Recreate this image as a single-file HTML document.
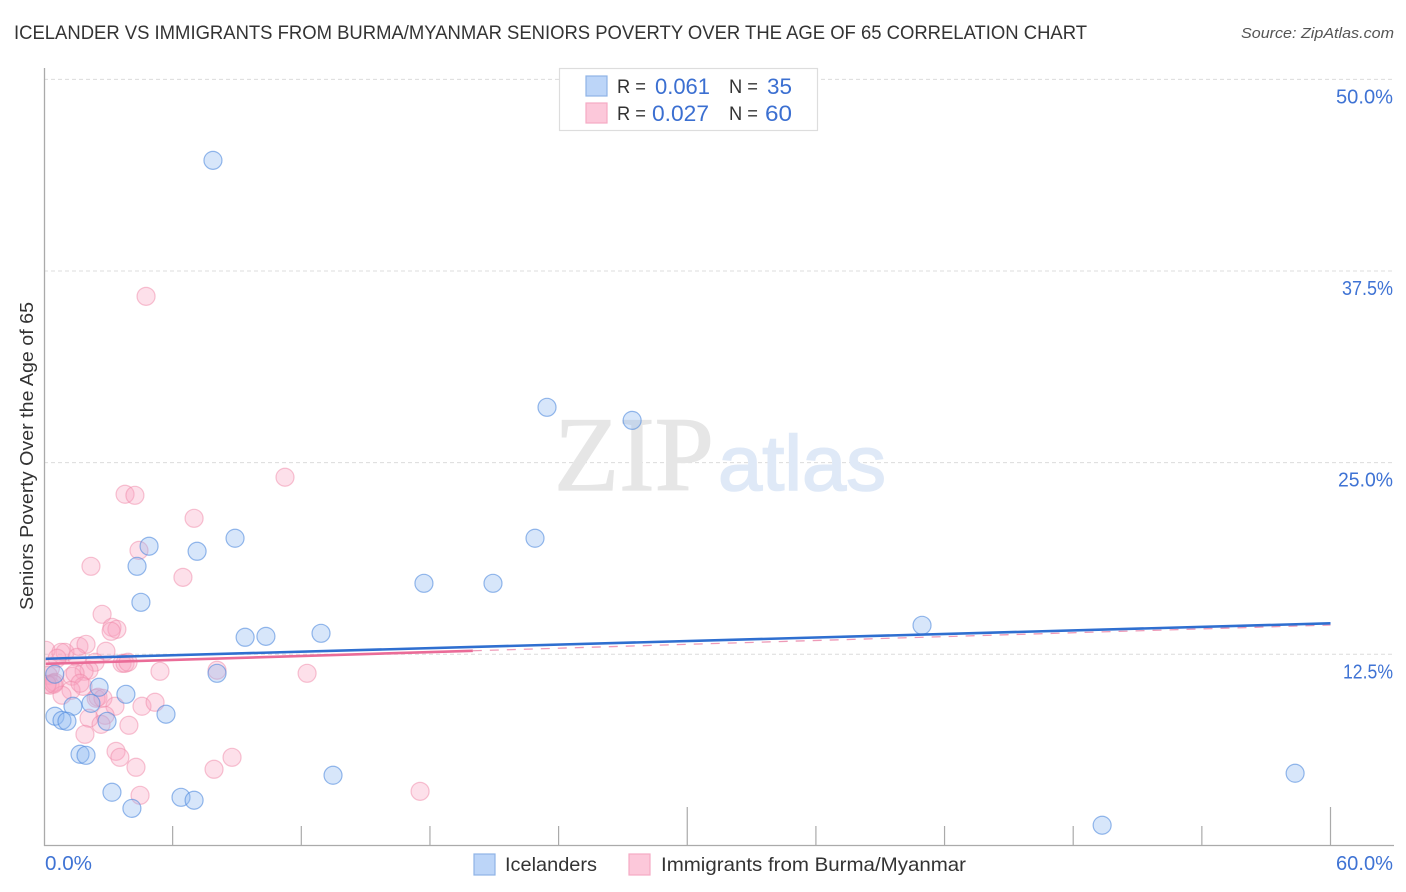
<!DOCTYPE html>
<html lang="en">
<head>
<meta charset="utf-8">
<title>Icelander vs Immigrants from Burma/Myanmar Seniors Poverty Correlation Chart</title>
<style>
html,body{margin:0;padding:0;background:#fff;}
svg{display:block;font-family:"Liberation Sans",sans-serif;}
</style>
</head>
<body>
<svg id="chart" xmlns="http://www.w3.org/2000/svg" width="1406" height="892" viewBox="0 0 1406 892">
  <defs>
    <clipPath id="plot-clip"><rect x="45" y="60" width="1349" height="786"/></clipPath>
  </defs>
  <rect x="0" y="0" width="1406" height="892" fill="#ffffff"/>
  <text x="14" y="39" font-size="19.5" fill="#333333" textLength="1073" lengthAdjust="spacingAndGlyphs">ICELANDER VS IMMIGRANTS FROM BURMA/MYANMAR SENIORS POVERTY OVER THE AGE OF 65 CORRELATION CHART</text>
  <text x="1241" y="38" font-size="15" font-style="italic" fill="#555555" textLength="153" lengthAdjust="spacingAndGlyphs">Source: ZipAtlas.com</text>
  <g id="grid"></g>
  <g>
    <text x="554" y="490" font-family="'Liberation Serif',serif" font-size="106" fill="#e6e6e6" stroke="#e6e6e6" stroke-width="1.2" textLength="160" lengthAdjust="spacingAndGlyphs">ZIP</text>
    <text x="718" y="490" font-size="78" fill="#dfe9f7" stroke="#dfe9f7" stroke-width="1.6" textLength="168" lengthAdjust="spacingAndGlyphs">atlas</text>
  </g>
  <g id="axes"></g>
  <g clip-path="url(#plot-clip)">
    <g id="pink-points"></g>
    <g id="blue-points"></g>
    <g id="trends"></g>
  </g>
  <g id="y-labels"></g>
  <g id="x-labels"></g>
  <text transform="translate(33,456) rotate(-90)" text-anchor="middle" font-size="18.5" fill="#333333" textLength="308" lengthAdjust="spacingAndGlyphs">Seniors Poverty Over the Age of 65</text>

  <g>
    <rect x="559.5" y="68.5" width="258" height="62" fill="#ffffff" stroke="#dddddd" stroke-width="1.2"/>
    <rect x="586" y="76" width="21" height="20" fill="#bcd5f8" stroke="#8fb3e6" stroke-width="1.2"/>
    <rect x="586" y="103" width="21" height="20" fill="#fcc8da" stroke="#f5aac4" stroke-width="1.2"/>
    <text x="617" y="93" font-size="19" fill="#333333" textLength="29" lengthAdjust="spacingAndGlyphs">R =</text>
    <text x="655" y="94" font-size="22" fill="#3b6fd1" textLength="55" lengthAdjust="spacingAndGlyphs">0.061</text>
    <text x="729" y="93" font-size="19" fill="#333333" textLength="29" lengthAdjust="spacingAndGlyphs">N =</text>
    <text x="767" y="94" font-size="22" fill="#3b6fd1" textLength="25" lengthAdjust="spacingAndGlyphs">35</text>
    <text x="617" y="120" font-size="19" fill="#333333" textLength="29" lengthAdjust="spacingAndGlyphs">R =</text>
    <text x="652" y="121" font-size="22" fill="#3b6fd1" textLength="57" lengthAdjust="spacingAndGlyphs">0.027</text>
    <text x="729" y="120" font-size="19" fill="#333333" textLength="29" lengthAdjust="spacingAndGlyphs">N =</text>
    <text x="765" y="121" font-size="22" fill="#3b6fd1" textLength="27" lengthAdjust="spacingAndGlyphs">60</text>
  </g>

  <g>
    <rect x="474" y="854" width="21" height="21" fill="#bcd5f8" stroke="#8fb3e6" stroke-width="1.2"/>
    <text x="505" y="871" font-size="19.5" fill="#333333" textLength="92" lengthAdjust="spacingAndGlyphs">Icelanders</text>
    <rect x="629" y="854" width="21" height="21" fill="#fcc8da" stroke="#f5aac4" stroke-width="1.2"/>
    <text x="661" y="871" font-size="19.5" fill="#333333" textLength="305" lengthAdjust="spacingAndGlyphs">Immigrants from Burma/Myanmar</text>
  </g>
</svg>
<script>
// ---- chart data (percent values) ----
const yTickValues = [50, 37.5, 25, 12.5];
const yTickLabels = ["50.0%", "37.5%", "25.0%", "12.5%"];
const xTickValues = [0, 6, 12, 18, 24, 30, 36, 42, 48, 54, 60];
const xMajorTicks = [30, 60];
const xEndLabels = ["0.0%", "60.0%"];

const icelandersX = [7.88,23.46,27.43,8.91,22.90,4.90,7.14,4.34,17.72,20.94,4.52,40.95,12.92,9.38,10.35,8.07,2.57,3.82,2.19,1.35,5.69,0.51,2.94,0.84,1.07,1.68,1.96,13.48,58.35,3.17,6.39,7.00,4.10,49.35,0.50];
const icelandersY = [44.72,28.61,27.76,20.07,20.07,19.55,19.22,18.24,17.13,17.13,15.89,14.39,13.87,13.61,13.67,11.26,10.35,9.89,9.30,9.11,8.59,8.46,8.13,8.19,8.13,5.98,5.91,4.61,4.74,3.50,3.17,2.98,2.45,1.35,11.20];

const immigrantsX = [4.76,11.24,3.78,4.24,7.00,4.43,2.19,6.48,2.71,3.17,3.40,3.13,0.09,0.98,0.79,1.63,1.96,2.89,1.54,2.38,0.61,3.64,3.78,3.92,5.41,8.07,2.10,1.87,1.31,1.45,0.30,0.20,0.42,0.28,0.51,1.82,1.26,0.84,1.68,2.52,2.43,2.75,3.31,4.57,5.18,2.85,2.10,2.66,3.96,1.91,3.36,3.54,4.29,8.77,7.93,4.48,12.27,17.54,0.45,0.14];
const immigrantsY = [35.85,24.05,22.94,22.87,21.37,19.28,18.24,17.52,15.11,14.26,14.13,14.00,12.76,12.63,12.63,13.02,13.15,12.70,12.30,11.98,12.24,11.91,11.91,11.98,11.39,11.46,11.46,11.39,11.07,11.26,11.59,11.13,10.61,10.48,10.67,10.41,10.15,9.83,10.61,9.70,9.63,9.63,9.11,9.11,9.37,8.52,8.33,7.93,7.87,7.28,6.17,5.78,5.13,5.78,5.00,3.30,11.26,3.56,10.55,10.54];

const icelandersTrendX = [0.08, 60];
const icelandersTrendY = [12.21, 14.52];
const immigrantsTrendSolidX = [0.08, 20];
const immigrantsTrendSolidY = [11.88, 12.73];
const immigrantsTrendDashX = [20, 60];
const immigrantsTrendDashY = [12.73, 14.41];

// ---- axis functions ----
const xPos = v => 44 + v * (1330.5 - 44) / 60;
const yPos = v => 654.3 + (12.5 - v) * 15.33;

const NS = "http://www.w3.org/2000/svg";
function make(tag, attrs, parent) {
  const el = document.createElementNS(NS, tag);
  for (const k in attrs) el.setAttribute(k, attrs[k]);
  parent.appendChild(el);
  return el;
}

// gridlines and y tick labels
const gridG = document.getElementById("grid");
const yLabelsG = document.getElementById("y-labels");
const yLabelWidth = {"50.0%": 57, "37.5%": 51, "25.0%": 55, "12.5%": 50};
yTickValues.forEach((v, i) => {
  const line = make("line", {x1: 44, x2: 1394, y1: yPos(v), y2: yPos(v), stroke: "#dcdcdc", "stroke-width": 1, "stroke-dasharray": "4 3"}, gridG);
  
  
  const w = yLabelWidth[yTickLabels[i]];
  const t = make("text", {x: 1393 - w, y: yPos(v) + 24, "font-size": 20, fill: "#3f73d4", textLength: w, lengthAdjust: "spacingAndGlyphs"}, yLabelsG);
  t.textContent = yTickLabels[i];
  
  
});

// axes and ticks
const axesG = document.getElementById("axes");
const yAxis = make("line", {x1: 44.5, x2: 44.5, y1: 68, y2: 846, stroke: "#aaaaaa", "stroke-width": 1.3}, axesG);


const xAxis = make("line", {x1: 44, x2: 1394, y1: 845.5, y2: 845.5, stroke: "#aaaaaa", "stroke-width": 1.3}, axesG);


xTickValues.slice(1).forEach(v => {
  const top = xMajorTicks.includes(v) ? 807 : 826;
  const tick = make("line", {x1: xPos(v), x2: xPos(v), y1: top, y2: 845.5, stroke: "#aaaaaa", "stroke-width": 1.2}, axesG);
  
  
});

// x end labels
const xLabelsG = document.getElementById("x-labels");
const xl0 = make("text", {x: 45, y: 870, "font-size": 20, fill: "#3f73d4", textLength: 47, lengthAdjust: "spacingAndGlyphs"}, xLabelsG);
xl0.textContent = xEndLabels[0];


const xl1 = make("text", {x: 1336, y: 870, "font-size": 20, fill: "#3f73d4", textLength: 57, lengthAdjust: "spacingAndGlyphs"}, xLabelsG);
xl1.textContent = xEndLabels[1];



// points
const pinkG = document.getElementById("pink-points");
immigrantsX.forEach((v, i) => {
  const c = make("circle", {cx: xPos(v), cy: yPos(immigrantsY[i]), r: 9, fill: "rgba(248,165,192,0.34)", stroke: "rgba(240,135,168,0.5)", "stroke-width": 1.2}, pinkG);
  
  
});
const blueG = document.getElementById("blue-points");
icelandersX.forEach((v, i) => {
  const c = make("circle", {cx: xPos(v), cy: yPos(icelandersY[i]), r: 9, fill: "rgba(145,185,240,0.36)", stroke: "rgba(80,138,222,0.6)", "stroke-width": 1.2}, blueG);
  
  
});

// trend lines
const trendsG = document.getElementById("trends");
const pinkDash = make("line", {x1: xPos(immigrantsTrendDashX[0]), y1: yPos(immigrantsTrendDashY[0]), x2: xPos(immigrantsTrendDashX[1]), y2: yPos(immigrantsTrendDashY[1]), stroke: "#e8709a", "stroke-width": 1.3, "stroke-dasharray": "9 8", opacity: 0.7}, trendsG);


const blueTrend = make("line", {x1: xPos(icelandersTrendX[0]), y1: yPos(icelandersTrendY[0]), x2: xPos(icelandersTrendX[1]), y2: yPos(icelandersTrendY[1]), stroke: "#2f6fd0", "stroke-width": 2.6}, trendsG);


const pinkTrend = make("line", {x1: xPos(immigrantsTrendSolidX[0]), y1: yPos(immigrantsTrendSolidY[0]), x2: xPos(immigrantsTrendSolidX[1]), y2: yPos(immigrantsTrendSolidY[1]), stroke: "#ea6c98", "stroke-width": 2.6}, trendsG);


</script>
</body>
</html>
